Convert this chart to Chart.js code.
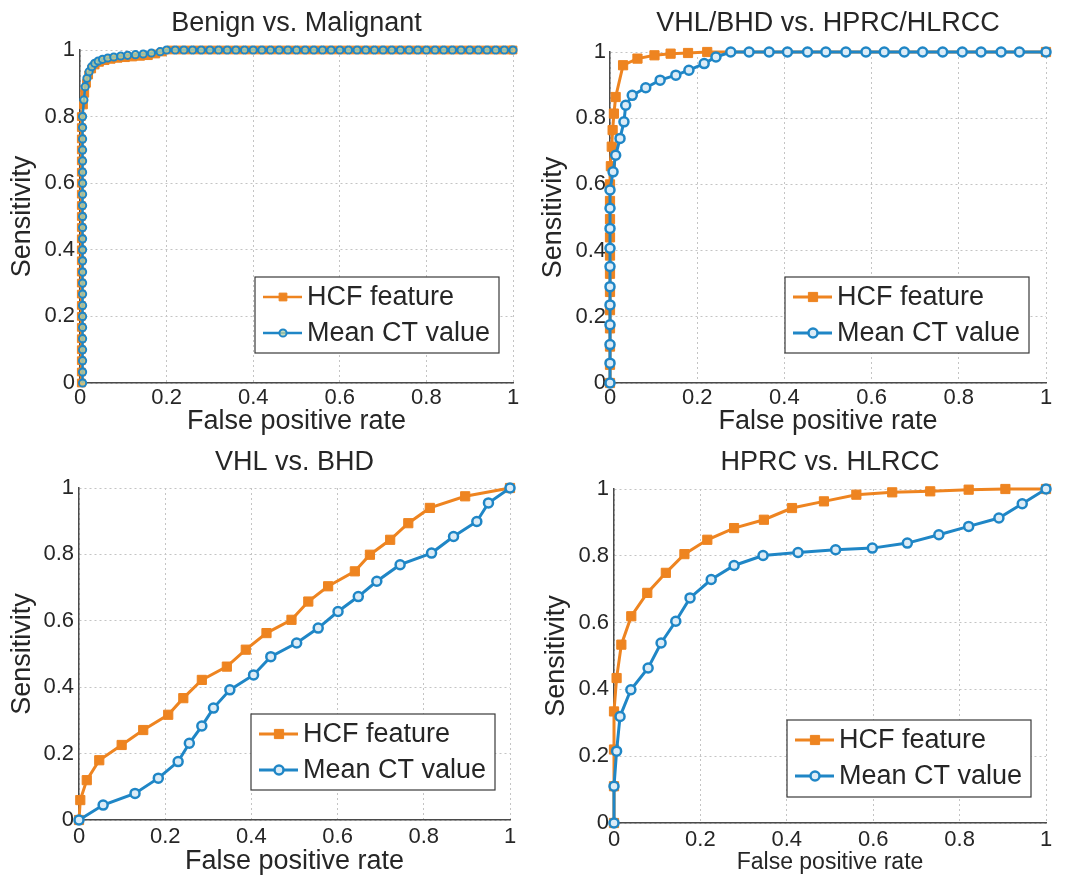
<!DOCTYPE html>
<html>
<head>
<meta charset="utf-8">
<script src="https://cdn.jsdelivr.net/npm/chart.js@4.4.1/dist/chart.umd.min.js"></script>
<style>
  body { margin: 0; background: #fff; }
  .panel { position: absolute; width: 537px; height: 441px; }
</style>
</head>
<body>
<div class="panel" style="left:0;top:0"><canvas id="benign" width="537" height="441"></canvas></div>
<div class="panel" style="left:537px;top:0"><canvas id="vhlbhd" width="537" height="441"></canvas></div>
<div class="panel" style="left:0;top:441px"><canvas id="vhl" width="537" height="441"></canvas></div>
<div class="panel" style="left:537px;top:441px"><canvas id="hprc" width="537" height="441"></canvas></div>
<script>
// colours and shared labels
const orange = '#EE8420'
const blue = '#1F86C6'
const textColor = '#262626'
const fontFamily = "'Liberation Sans', Arial, sans-serif"

const tickValues = [0, 0.2, 0.4, 0.6, 0.8, 1]
const tickLabels = ['0', '0.2', '0.4', '0.6', '0.8', '1']
const legendNames = ['HCF feature', 'Mean CT value']

// Benign vs. Malignant
const benignHcfFpr = [
  0.003, 0.003, 0.003, 0.003, 0.003, 0.003, 0.003, 0.003, 0.003, 0.003,
  0.003, 0.003, 0.003, 0.003, 0.003, 0.003, 0.003, 0.003, 0.003, 0.003,
  0.003, 0.003, 0.003, 0.003, 0.003,
  0.008, 0.011, 0.015, 0.02, 0.027, 0.035, 0.045, 0.058, 0.072, 0.088,
  0.105, 0.122, 0.14, 0.158, 0.175, 0.19,
  0.21, 0.23, 0.25, 0.27, 0.29, 0.31, 0.33, 0.35, 0.37, 0.39,
  0.41, 0.43, 0.45, 0.47, 0.49, 0.51, 0.53, 0.55, 0.57, 0.59,
  0.61, 0.63, 0.65, 0.67, 0.69, 0.71, 0.73, 0.75, 0.77, 0.79,
  0.81, 0.83, 0.85, 0.87, 0.89, 0.91, 0.93, 0.95, 0.97, 0.99, 1
]
const benignHcfTpr = [
  0, 0.033, 0.067, 0.1, 0.133, 0.167, 0.2, 0.233, 0.267, 0.3,
  0.333, 0.367, 0.4, 0.433, 0.467, 0.5, 0.533, 0.567, 0.6, 0.633,
  0.667, 0.7, 0.733, 0.767, 0.8,
  0.835, 0.87, 0.9, 0.925, 0.943, 0.955, 0.963, 0.968, 0.972, 0.975,
  0.977, 0.979, 0.981, 0.983, 0.988, 0.994,
  1, 1, 1, 1, 1, 1, 1, 1, 1, 1,
  1, 1, 1, 1, 1, 1, 1, 1, 1, 1,
  1, 1, 1, 1, 1, 1, 1, 1, 1, 1,
  1, 1, 1, 1, 1, 1, 1, 1, 1, 1, 1
]
const benignCtFpr = [
  0.006, 0.006, 0.006, 0.006, 0.006, 0.006, 0.006, 0.006, 0.006, 0.006,
  0.006, 0.006, 0.006, 0.006, 0.006, 0.006, 0.006, 0.006, 0.006, 0.006,
  0.006, 0.006, 0.006, 0.006, 0.006,
  0.009, 0.012, 0.016, 0.021, 0.027, 0.034, 0.042, 0.052, 0.064, 0.078,
  0.094, 0.11, 0.128, 0.146, 0.165, 0.185,
  0.2, 0.22, 0.24, 0.26, 0.28, 0.3, 0.32, 0.34, 0.36, 0.38,
  0.4, 0.42, 0.44, 0.46, 0.48, 0.5, 0.52, 0.54, 0.56, 0.58,
  0.6, 0.62, 0.64, 0.66, 0.68, 0.7, 0.72, 0.74, 0.76, 0.78,
  0.8, 0.82, 0.84, 0.86, 0.88, 0.9, 0.92, 0.94, 0.96, 0.98, 1
]
const benignCtTpr = [
  0, 0.033, 0.067, 0.1, 0.133, 0.167, 0.2, 0.233, 0.267, 0.3,
  0.333, 0.367, 0.4, 0.433, 0.467, 0.5, 0.533, 0.567, 0.6, 0.633,
  0.667, 0.7, 0.733, 0.767, 0.8,
  0.85, 0.89, 0.915, 0.935, 0.95, 0.96, 0.967, 0.972, 0.976, 0.979,
  0.982, 0.984, 0.986, 0.988, 0.991, 0.995,
  1, 1, 1, 1, 1, 1, 1, 1, 1, 1,
  1, 1, 1, 1, 1, 1, 1, 1, 1, 1,
  1, 1, 1, 1, 1, 1, 1, 1, 1, 1,
  1, 1, 1, 1, 1, 1, 1, 1, 1, 1, 1
]

// VHL/BHD vs. HPRC/HLRCC
const groupHcfFpr = [0, 0, 0, 0, 0, 0, 0, 0, 0, 0, 0, 0, 0.002, 0.004, 0.006, 0.009, 0.013, 0.03, 0.063, 0.102, 0.139, 0.179, 0.223, 1]
const groupHcfTpr = [0, 0.055, 0.11, 0.165, 0.22, 0.275, 0.33, 0.385, 0.44, 0.495, 0.55, 0.6, 0.655, 0.714, 0.764, 0.814, 0.864, 0.96, 0.98, 0.99, 0.995, 0.997, 1, 1]
const groupCtFpr = [
  0, 0, 0, 0, 0, 0, 0, 0, 0, 0, 0,
  0.007, 0.013, 0.023, 0.032, 0.036, 0.051, 0.082, 0.115, 0.151, 0.181, 0.216, 0.243, 0.277,
  0.319, 0.365, 0.407, 0.453, 0.495, 0.541, 0.587, 0.629, 0.675, 0.717, 0.763, 0.808, 0.851, 0.897, 0.939, 1
]
const groupCtTpr = [
  0, 0.06, 0.116, 0.176, 0.236, 0.291, 0.352, 0.407, 0.467, 0.528, 0.583,
  0.638, 0.688, 0.739, 0.789, 0.839, 0.869, 0.892, 0.915, 0.93, 0.945, 0.965, 0.985, 1,
  1, 1, 1, 1, 1, 1, 1, 1, 1, 1, 1, 1, 1, 1, 1, 1
]

// VHL vs. BHD
const vhlHcfFpr = [0, 0.003, 0.018, 0.047, 0.099, 0.149, 0.207, 0.242, 0.285, 0.343, 0.387, 0.435, 0.493, 0.532, 0.578, 0.64, 0.675, 0.722, 0.764, 0.814, 0.896, 1]
const vhlHcfTpr = [0, 0.06, 0.12, 0.18, 0.226, 0.271, 0.317, 0.367, 0.422, 0.462, 0.513, 0.563, 0.603, 0.658, 0.704, 0.749, 0.799, 0.844, 0.894, 0.94, 0.975, 1]
const vhlCtFpr = [0, 0.056, 0.13, 0.184, 0.23, 0.256, 0.285, 0.312, 0.35, 0.405, 0.445, 0.505, 0.555, 0.601, 0.648, 0.691, 0.745, 0.818, 0.869, 0.923, 0.95, 1]
const vhlCtTpr = [0, 0.045, 0.08, 0.126, 0.176, 0.231, 0.283, 0.337, 0.392, 0.437, 0.492, 0.533, 0.578, 0.628, 0.673, 0.719, 0.769, 0.804, 0.854, 0.899, 0.955, 1]

// HPRC vs. HLRCC
const hprcHcfFpr = [0, 0, 0, 0, 0.006, 0.017, 0.04, 0.077, 0.12, 0.163, 0.216, 0.278, 0.347, 0.412, 0.486, 0.561, 0.644, 0.732, 0.821, 0.906, 1]
const hprcHcfTpr = [0, 0.11, 0.22, 0.334, 0.434, 0.534, 0.619, 0.689, 0.749, 0.805, 0.848, 0.883, 0.908, 0.943, 0.963, 0.983, 0.99, 0.993, 0.998, 1, 1]
const hprcCtFpr = [0, 0, 0.006, 0.014, 0.039, 0.079, 0.109, 0.143, 0.176, 0.225, 0.278, 0.345, 0.426, 0.513, 0.598, 0.679, 0.752, 0.821, 0.891, 0.945, 1]
const hprcCtTpr = [0, 0.11, 0.215, 0.319, 0.399, 0.464, 0.539, 0.604, 0.674, 0.729, 0.771, 0.801, 0.81, 0.818, 0.823, 0.838, 0.863, 0.888, 0.913, 0.956, 1]

function toPoints(xs, ys) {
    return xs.map((x, i) => ({ x: x, y: ys[i] }))
}

// legend box drawn inside the plot area, lower right
const legendBox = {
    id: 'legendBox',
    afterDatasetsDraw(chart, args, opts) {
        const { ctx, chartArea } = chart
        const left = chartArea.right - opts.right - opts.width
        const top = chartArea.bottom - opts.bottom - opts.height
        ctx.save()
        ctx.fillStyle = '#fff'
        ctx.fillRect(left, top, opts.width, opts.height)
        ctx.strokeStyle = '#3a3a3a'
        ctx.lineWidth = 1.2
        ctx.strokeRect(left, top, opts.width, opts.height)
        ctx.font = '27px ' + fontFamily
        ctx.textBaseline = 'middle'
        chart.data.datasets.forEach((ds, i) => {
            const y = top + 20 + i * 36
            ctx.strokeStyle = ds.borderColor
            ctx.lineWidth = ds.borderWidth
            ctx.beginPath()
            ctx.moveTo(left + 8, y)
            ctx.lineTo(left + 47, y)
            ctx.stroke()
            ctx.fillStyle = ds.pointBackgroundColor
            ctx.strokeStyle = ds.pointBorderColor
            ctx.lineWidth = ds.pointBorderWidth
            ctx.beginPath()
            if (ds.pointStyle === 'rect') {
                const s = ds.pointRadius * Math.SQRT1_2
                ctx.rect(left + 28 - s, y - s, 2 * s, 2 * s)
            } else {
                ctx.arc(left + 28, y, ds.pointRadius, 0, Math.PI * 2)
            }
            ctx.fill()
            ctx.stroke()
            ctx.fillStyle = textColor
            ctx.fillText(ds.label, left + 52, y + 1)
        })
        ctx.restore()
    }
}

function axisOptions(title, s, horizontal) {
    return {
        type: 'linear',
        min: 0,
        max: 1,
        afterBuildTicks: scale => { scale.ticks = tickValues.map(v => ({ value: v })) },
        afterFit: scale => {
            if (horizontal) scale.height = s.xHeight
            else scale.width = s.yWidth
        },
        ticks: {
            color: textColor,
            font: { family: fontFamily, size: 22 },
            padding: horizontal ? s.xTickPad : s.yTickPad,
            maxRotation: 0,
            autoSkip: false,
            callback: v => tickLabels[tickValues.indexOf(v)]
        },
        grid: { color: '#c4c4c4', lineWidth: 1, drawTicks: false },
        border: { color: '#4a4a4a', width: 1.5, dash: [2, 3] },
        title: {
            display: true,
            text: title,
            color: textColor,
            font: { family: fontFamily, size: horizontal ? s.xTitleSize : 27 },
            padding: horizontal ? { top: 0, bottom: s.xTitlePad } : { top: s.yTitlePad, bottom: 0 }
        }
    }
}

function makeChart(id, s) {
    new Chart(document.getElementById(id).getContext('2d'), {
        type: 'line',
        data: {
            datasets: [{
                label: legendNames[0],
                data: toPoints(s.hcfX, s.hcfY),
                borderColor: orange,
                borderWidth: s.lineWidth,
                pointStyle: 'rect',
                pointRadius: s.hcfRadius,
                pointBorderWidth: 1,
                pointBackgroundColor: orange,
                pointBorderColor: orange,
                order: 2,
                clip: false
            }, {
                label: legendNames[1],
                data: toPoints(s.ctX, s.ctY),
                borderColor: blue,
                borderWidth: s.lineWidth,
                pointStyle: 'circle',
                pointRadius: s.ctRadius,
                pointBorderWidth: s.ctBorder,
                pointBackgroundColor: s.ctFill,
                pointBorderColor: blue,
                order: 1,
                clip: false
            }]
        },
        options: {
            responsive: false,
            animation: false,
            events: [],
            layout: { padding: { left: 0, top: 0, right: s.padRight, bottom: 0 } },
            elements: { line: { tension: 0 } },
            scales: {
                x: axisOptions('False positive rate', s, true),
                y: axisOptions('Sensitivity', s, false)
            },
            plugins: {
                legend: { display: false },
                tooltip: { enabled: false },
                title: {
                    display: true,
                    text: s.title,
                    fullSize: false,
                    color: textColor,
                    font: { family: fontFamily, size: 27, weight: 'normal' },
                    padding: { top: s.titleTop, bottom: s.titleBottom }
                },
                legendBox: { width: 244, height: s.legendHeight, right: s.legendRight, bottom: s.legendBottom }
            }
        },
        plugins: [legendBox]
    })
}

makeChart('benign', {
    title: 'Benign vs. Malignant',
    hcfX: benignHcfFpr, hcfY: benignHcfTpr, ctX: benignCtFpr, ctY: benignCtTpr,
    lineWidth: 2.5, hcfRadius: 5.5, ctRadius: 3.6, ctBorder: 2, ctFill: 'rgba(200,215,160,0.7)',
    titleTop: 7, titleBottom: 10.6, padRight: 24,
    yWidth: 80, yTickPad: 5, yTitlePad: 6.8,
    xHeight: 58, xTickPad: 2, xTitlePad: 2.8, xTitleSize: 27,
    legendHeight: 76, legendRight: 14, legendBottom: 30
})

makeChart('vhlbhd', {
    title: 'VHL/BHD vs. HPRC/HLRCC',
    hcfX: groupHcfFpr, hcfY: groupHcfTpr, ctX: groupCtFpr, ctY: groupCtTpr,
    lineWidth: 3, hcfRadius: 6.5, ctRadius: 4.5, ctBorder: 2.5, ctFill: '#dcecf7',
    titleTop: 7, titleBottom: 12.6, padRight: 28,
    yWidth: 73, yTickPad: 4, yTitlePad: 0.8,
    xHeight: 58, xTickPad: 2, xTitlePad: 2.8, xTitleSize: 27,
    legendHeight: 76, legendRight: 17, legendBottom: 30
})

makeChart('vhl', {
    title: 'VHL vs. BHD',
    hcfX: vhlHcfFpr, hcfY: vhlHcfTpr, ctX: vhlCtFpr, ctY: vhlCtTpr,
    lineWidth: 3, hcfRadius: 6.5, ctRadius: 4.5, ctBorder: 2.5, ctFill: '#dcecf7',
    titleTop: 5.8, titleBottom: 8.8, padRight: 27,
    yWidth: 79, yTickPad: 5, yTitlePad: 6.8,
    xHeight: 62, xTickPad: 3.8, xTitlePad: 3.8, xTitleSize: 27,
    legendHeight: 76, legendRight: 15, legendBottom: 30
})

makeChart('hprc', {
    title: 'HPRC vs. HLRCC',
    hcfX: hprcHcfFpr, hcfY: hprcHcfTpr, ctX: hprcCtFpr, ctY: hprcCtTpr,
    lineWidth: 3, hcfRadius: 6.5, ctRadius: 4.5, ctBorder: 2.5, ctFill: '#dcecf7',
    titleTop: 5.8, titleBottom: 9.8, padRight: 28,
    yWidth: 77, yTickPad: 5, yTitlePad: 3.8,
    xHeight: 59, xTickPad: 3.8, xTitlePad: 5.2, xTitleSize: 23,
    legendHeight: 77, legendRight: 15, legendBottom: 26
})
</script>
</body>
</html>
